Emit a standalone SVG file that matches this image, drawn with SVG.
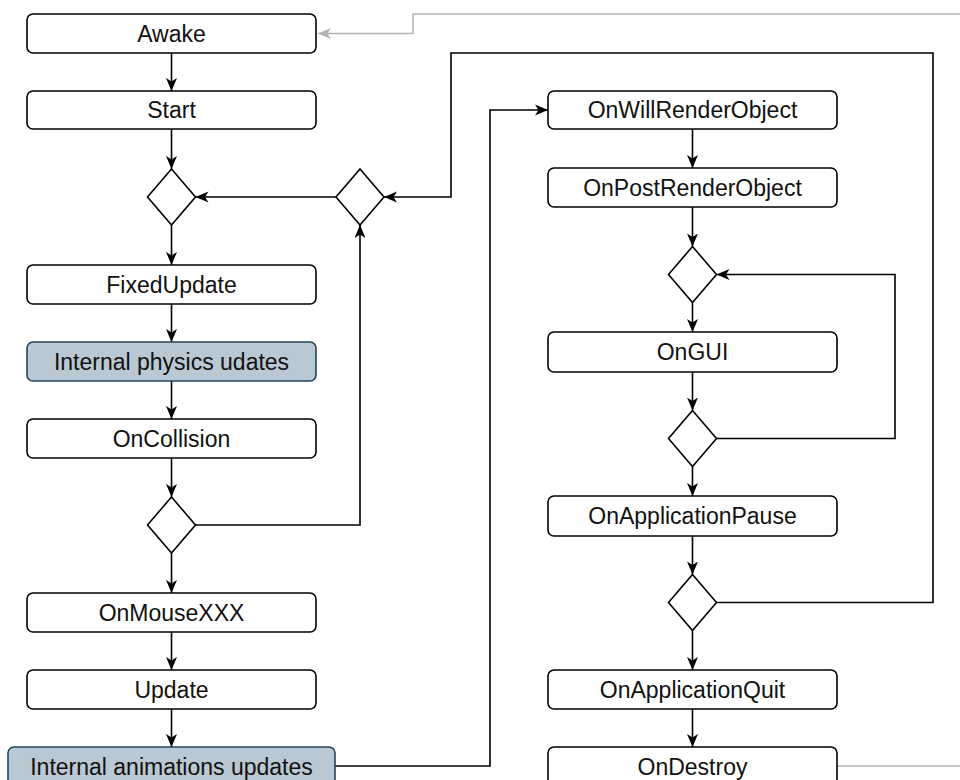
<svg xmlns="http://www.w3.org/2000/svg" width="960" height="780" viewBox="0 0 960 780">
<style>
.box{fill:#ffffff;stroke:#000000;stroke-width:1.6}
.blue{fill:#bac8d3;stroke:#23445d;stroke-width:1.6}
.dia{fill:#ffffff;stroke:#000000;stroke-width:1.6}
.lbl{font-family:"Liberation Sans",Arial,Helvetica,sans-serif;font-size:23px;fill:#111111;text-anchor:middle}
.edge{fill:none;stroke:#000000;stroke-width:1.6;marker-end:url(#arr)}
.gray{fill:none;stroke:#b3b3b3;stroke-width:1.6;marker-end:url(#garr)}
</style>
<defs>
<marker id="arr" markerUnits="userSpaceOnUse" markerWidth="13" markerHeight="12" viewBox="0 0 13 12" refX="13" refY="6" orient="auto">
<path d="M0,0.5 L13,6 L0,11.5 L3.5,6 z" fill="#000000"/>
</marker>
<marker id="garr" markerUnits="userSpaceOnUse" markerWidth="13" markerHeight="12" viewBox="0 0 13 12" refX="13" refY="6" orient="auto">
<path d="M0,0.5 L13,6 L0,11.5 L3.5,6 z" fill="#b3b3b3"/>
</marker>
</defs>
<rect width="960" height="780" fill="#ffffff"/>
<g id="connectors">
<path class="edge" d="M171.5,53 V91"/>
<path class="edge" d="M171.5,129 V169"/>
<path class="edge" d="M336,197 H195.5"/>
<path class="edge" d="M171.5,225 V265"/>
<path class="edge" d="M171.5,304 V342"/>
<path class="edge" d="M171.5,381 V419"/>
<path class="edge" d="M171.5,458 V497"/>
<path class="edge" d="M195.5,525 H360 V225"/>
<path class="edge" d="M171.5,553 V593"/>
<path class="edge" d="M171.5,632 V670"/>
<path class="edge" d="M171.5,709 V747"/>
<path class="edge" d="M335,766 H490 V110 H548"/>
<path class="edge" d="M692.5,129 V168"/>
<path class="edge" d="M692.5,207 V246.5"/>
<path class="edge" d="M692.5,302.5 V332"/>
<path class="edge" d="M692.5,372 V410.5"/>
<path class="edge" d="M716.5,438.5 H895 V274.5 H716.5"/>
<path class="edge" d="M692.5,466.5 V496"/>
<path class="edge" d="M692.5,536 V574.5"/>
<path class="edge" d="M716.5,602.5 H933 V53 H451 V197 H384"/>
<path class="edge" d="M692.5,630.5 V670"/>
<path class="edge" d="M692.5,709 V747"/>
<path class="gray" d="M837,766 H980 V14 H413 V33.5 H318"/>
</g>
<g id="awake"><rect class="box" x="27" y="14" width="289" height="39" rx="6"/><text class="lbl" x="171.5" y="41.5">Awake</text></g>
<g id="start"><rect class="box" x="27" y="91" width="289" height="38" rx="6"/><text class="lbl" x="171.5" y="118">Start</text></g>
<g id="dec1"><polygon class="dia" points="171.5,169 195.5,197 171.5,225 147.5,197"/></g>
<g id="dec2"><polygon class="dia" points="360,169 384,197 360,225 336,197"/></g>
<g id="fixedupdate"><rect class="box" x="27" y="265" width="289" height="39" rx="6"/><text class="lbl" x="171.5" y="292.5">FixedUpdate</text></g>
<g id="physics"><rect class="blue" x="27" y="342" width="289" height="39" rx="6"/><text class="lbl" x="171.5" y="369.5">Internal physics udates</text></g>
<g id="oncollision"><rect class="box" x="27" y="419" width="289" height="39" rx="6"/><text class="lbl" x="171.5" y="446.5">OnCollision</text></g>
<g id="dec3"><polygon class="dia" points="171.5,497 195.5,525 171.5,553 147.5,525"/></g>
<g id="onmouse"><rect class="box" x="27" y="593" width="289" height="39" rx="6"/><text class="lbl" x="171.5" y="620.5">OnMouseXXX</text></g>
<g id="update"><rect class="box" x="27" y="670" width="289" height="39" rx="6"/><text class="lbl" x="171.5" y="697.5">Update</text></g>
<g id="animations"><rect class="blue" x="8" y="747" width="327" height="39" rx="6"/><text class="lbl" x="171.5" y="774.5">Internal animations updates</text></g>
<g id="onwillrender"><rect class="box" x="548" y="91" width="289" height="38" rx="6"/><text class="lbl" x="692.5" y="118">OnWillRenderObject</text></g>
<g id="onpostrender"><rect class="box" x="548" y="168" width="289" height="39" rx="6"/><text class="lbl" x="692.5" y="195.5">OnPostRenderObject</text></g>
<g id="dec4"><polygon class="dia" points="692.5,246.5 716.5,274.5 692.5,302.5 668.5,274.5"/></g>
<g id="ongui"><rect class="box" x="548" y="332" width="289" height="40" rx="6"/><text class="lbl" x="692.5" y="360">OnGUI</text></g>
<g id="dec5"><polygon class="dia" points="692.5,410.5 716.5,438.5 692.5,466.5 668.5,438.5"/></g>
<g id="onpause"><rect class="box" x="548" y="496" width="289" height="40" rx="6"/><text class="lbl" x="692.5" y="524">OnApplicationPause</text></g>
<g id="dec6"><polygon class="dia" points="692.5,574.5 716.5,602.5 692.5,630.5 668.5,602.5"/></g>
<g id="onquit"><rect class="box" x="548" y="670" width="289" height="39" rx="6"/><text class="lbl" x="692.5" y="697.5">OnApplicationQuit</text></g>
<g id="ondestroy"><rect class="box" x="548" y="747" width="289" height="39" rx="6"/><text class="lbl" x="692.5" y="774.5">OnDestroy</text></g>
</svg>
